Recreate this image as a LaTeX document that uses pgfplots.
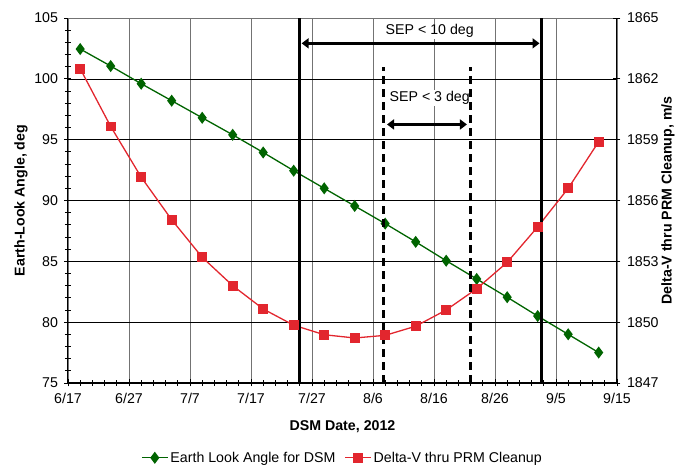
\documentclass[border=0pt]{standalone}
\usepackage{pgfplots}
\pgfplotsset{compat=1.18}
\usepackage{fontspec}
\setmainfont{Liberation Sans}
\usetikzlibrary{arrows.meta}
\definecolor{dgreen}{RGB}{0,100,0}
\definecolor{myred}{RGB}{226,38,46}
\pgfplotstableread{
day ang
2 102.45
7 101.05
12 99.6
17 98.2
22 96.8
27 95.4
32 93.95
37 92.45
42 91.0
47 89.55
52 88.1
57 86.6
62 85.05
67 83.55
72 82.05
77 80.5
82 79.0
87 77.5
}\greendata
\pgfplotstableread{
day dv
2 1862.5
7 1859.65
12 1857.15
17 1855.05
22 1853.2
27 1851.8
32 1850.65
37 1849.85
42 1849.38
47 1849.22
52 1849.35
57 1849.8
62 1850.6
67 1851.65
72 1852.95
77 1854.7
82 1856.6
87 1858.9
}\reddata
\begin{document}
\begin{tikzpicture}[font=\fontsize{14.2}{17}\selectfont]
\useasboundingbox (-68pt,-85pt) rectangle (613pt,383pt);
\pgfplotsset{
  common/.style={
    at={(0pt,0pt)}, anchor=south west,
    scale only axis, width=549pt, height=365pt,
    xmin=0, xmax=90,
    tick align=center,
    major tick length=7pt, minor tick length=6pt,
    tick style={black, line width=0.8pt},
    axis line style={black, line width=1pt},
    /pgf/number format/assume math mode=true,
    /pgf/number format/1000 sep={},
  }
}
\begin{axis}[common,
  ymin=75, ymax=105,
  axis x line*=bottom, axis y line*=left,
  xtick={0,10,...,90},
  xticklabels={6/17,6/27,7/7,7/17,7/27,8/6,8/16,8/26,9/5,9/15},
  minor x tick num=4,
  ytick={75,80,...,105}, minor y tick num=4,
  xmajorgrids, ymajorgrids,
  major x grid style={black!55, line width=0.8pt},
  major y grid style={black, line width=0.6pt},
  xticklabel style={yshift=-3pt},
  yticklabel style={xshift=-3pt},
  xlabel={\bfseries DSM Date, 2012},
  xlabel style={at={(axis description cs:0.5,-0.12)}, anchor=center},
  ylabel={\bfseries Earth-Look Angle, deg},
  ylabel style={at={(axis description cs:-0.0855,0.5)}, anchor=center},
  clip=false,
]
\draw[black!55, line width=0.8pt] (rel axis cs:0,1) -- (rel axis cs:1,1);
\addplot[dgreen, line width=1.3pt, mark=diamond*, mark size=5pt, mark options={fill=dgreen, draw=dgreen}] table[x=day, y=ang] {\greendata};
\end{axis}
\begin{axis}[common,
  ymin=1847, ymax=1865,
  axis x line=none, axis y line*=right,
  ytick={1847,1850,...,1865}, minor y tick num=2,
  yticklabel style={xshift=3pt},
  ylabel={\bfseries Delta-V thru PRM Cleanup, m/s},
  ylabel style={at={(axis description cs:1.093,0.5)}, anchor=center},
  clip=false,
  legend style={at={(axis description cs:0.5,-0.205)}, anchor=center, draw=none,
    legend columns=2, font=\fontsize{14.2}{17}\selectfont,
    /tikz/every even column/.append style={column sep=7pt},
    inner sep=0pt},
  legend cell align=left,
  legend image code/.code={\draw[mark repeat=2,mark phase=2,#1] plot coordinates {(0pt,0pt)(13pt,0pt)(26pt,0pt)};},
]
\addlegendimage{dgreen, line width=1.3pt, mark=diamond*, mark size=5pt, mark options={fill=dgreen, draw=dgreen}}
\addlegendentry{Earth Look Angle for DSM}
\addplot[myred, line width=1.3pt, mark=square*, mark size=4.2pt, mark options={fill=myred, draw=myred}] table[x=day, y=dv] {\reddata};
\addlegendentry{Delta-V thru PRM Cleanup}
\node[fill=white, inner sep=1pt] at (axis cs:59.3,1864.35) {SEP < 10 deg};
\node[fill=white, inner sep=1pt] at (axis cs:59.3,1861.05) {SEP < 3 deg};
\draw[black, line width=2.8pt] (axis cs:38,1847) -- (axis cs:38,1865);
\draw[black, line width=2.8pt] (axis cs:77.6,1847) -- (axis cs:77.6,1865);
\draw[black, line width=3.5pt, dash pattern=on 8pt off 5pt] (axis cs:51.75,1847) -- (axis cs:51.75,1862.6);
\draw[black, line width=3.5pt, dash pattern=on 8pt off 5pt] (axis cs:66,1847) -- (axis cs:66,1862.6);
\draw[black, line width=2.6pt, {Triangle[length=7pt,width=10pt]}-{Triangle[length=7pt,width=10pt]}] (axis cs:38.3,1863.75) -- (axis cs:77.3,1863.75);
\draw[black, line width=2.6pt, {Triangle[length=7pt,width=10pt]}-{Triangle[length=7pt,width=10pt]}] (axis cs:52.3,1859.75) -- (axis cs:65.4,1859.75);
\end{axis}
\end{tikzpicture}
\end{document}
